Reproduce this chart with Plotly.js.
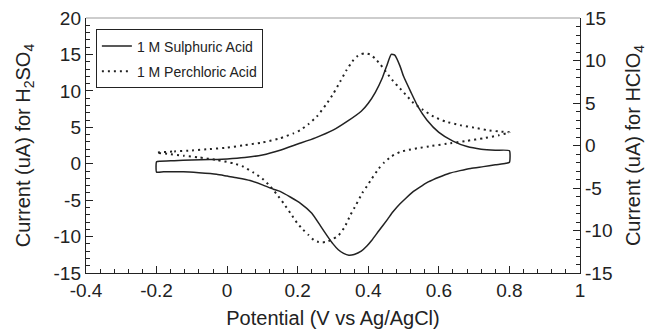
<!DOCTYPE html>
<html>
<head>
<meta charset="utf-8">
<script src="https://cdn.plot.ly/plotly-3.0.1.min.js"></script>
<style>
  html, body { margin: 0; padding: 0; background: #fff; }
  #chart { width: 652px; height: 336px; }
</style>
</head>
<body>
<div id="chart"></div>
<script>
// Cyclic voltammograms: potential (V vs Ag/AgCl) against current (uA)
// 1 M H2SO4 on the left axis, 1 M HClO4 on the right axis.

const sulphuricPotential = [
  -0.2, -0.19, -0.15, -0.1, -0.05, 0.0, 0.05, 0.1, 0.15, 0.2, 0.25, 0.3, 0.34, 0.38, 0.4, 0.42, 0.44, 0.455, 0.465,
  0.475, 0.49, 0.5, 0.52, 0.54, 0.566, 0.6, 0.64, 0.68, 0.72, 0.76, 0.8,
  0.8, 0.79, 0.76, 0.726, 0.69, 0.66, 0.63, 0.6, 0.57, 0.553, 0.528, 0.505, 0.49, 0.47, 0.455, 0.43, 0.41,
  0.396, 0.38, 0.36, 0.345, 0.33, 0.315, 0.3, 0.285, 0.264, 0.24, 0.207, 0.18, 0.15, 0.131, 0.1, 0.065,
  0.03, 0.0, -0.03, -0.08, -0.124, -0.18, -0.2, -0.2
];
const sulphuricCurrent = [
  0.27, 0.35, 0.42, 0.5, 0.57, 0.66, 0.85, 1.2, 1.85, 2.7, 3.55, 4.6, 5.8, 7.2, 8.3, 9.8, 11.8, 13.8, 15.0,
  14.9, 13.4, 12.0, 9.9, 7.9, 6.0, 4.3, 3.1, 2.35, 2.0, 1.85, 1.78,
  0.2, 0.05, -0.15, -0.4, -0.65, -0.95, -1.3, -1.85, -2.5, -3.0, -3.8, -4.8, -5.5, -6.6, -7.6, -9.2, -10.5,
  -11.3, -12.0, -12.45, -12.55, -12.3, -11.8, -11.0, -10.0, -8.5, -6.8, -5.4, -4.6, -3.8, -3.5, -2.9, -2.3,
  -1.95, -1.7, -1.45, -1.25, -1.12, -1.1, -1.15, 0.27
];

const perchloricPotential = [
  -0.2, -0.15, -0.1, -0.05, 0.0, 0.05, 0.1, 0.15, 0.188, 0.207, 0.23, 0.254, 0.28, 0.301, 0.32, 0.339, 0.355,
  0.367, 0.38, 0.391, 0.405, 0.419, 0.435, 0.453, 0.47, 0.49, 0.51, 0.528, 0.555, 0.585, 0.62, 0.66, 0.7,
  0.736, 0.77, 0.8,
  0.77, 0.726, 0.68, 0.632, 0.58, 0.538, 0.51, 0.49, 0.465, 0.445, 0.43, 0.41, 0.396, 0.383, 0.365, 0.349,
  0.333, 0.315, 0.3, 0.285, 0.27, 0.255, 0.245, 0.23, 0.215, 0.198, 0.18, 0.16, 0.14, 0.122, 0.1, 0.075,
  0.046, 0.018, -0.03, -0.08, -0.124, -0.17, -0.2
];
const perchloricCurrent = [
  -0.84, -0.7, -0.58, -0.42, -0.25, 0.05, 0.35, 0.85, 1.43, 1.8, 2.5, 3.4, 4.8, 6.1, 7.5, 8.9, 9.9,
  10.45, 10.75, 10.85, 10.7, 10.25, 9.5, 8.5, 7.6, 6.7, 5.8, 5.0, 4.2, 3.4, 2.8, 2.4, 2.1,
  1.82, 1.65, 1.55,
  1.2, 0.85, 0.55, 0.26, -0.05, -0.33, -0.55, -0.75, -1.3, -2.0, -2.7, -3.9, -4.8, -5.6, -7.0, -8.2,
  -9.6, -10.6, -11.0, -11.3, -11.4, -11.3, -11.1, -10.5, -9.9, -9.1, -8.0, -6.8, -5.7, -4.8, -3.9, -3.2,
  -2.5, -2.1, -1.7, -1.4, -1.2, -0.98, -0.84
];

// Tick positions and their printed labels
const xTickVals = [-0.4, -0.2, 0, 0.2, 0.4, 0.6, 0.8, 1];
const xTickText = ['-0.4', '-0.2', '0', '0.2', '0.4', '0.6', '0.8', '1'];
const yLeftTickVals = [-15, -10, -5, 0, 5, 10, 15, 20];
const yLeftTickText = ['-15', '-10', '-5', '0', '5', '10', '15', '20'];
const yRightTickVals = [-15, -10, -5, 0, 5, 10, 15];
const yRightTickText = ['-15', '-10', '-5', '0', '5', '10', '15'];

const ink = '#222';
const fontFamily = 'Arial, "Liberation Sans", Helvetica, sans-serif';

const traces = [
  {
    x: sulphuricPotential, y: sulphuricCurrent,
    name: '1 M Sulphuric Acid', type: 'scatter', mode: 'lines',
    line: { color: ink, width: 1.5, shape: 'spline', smoothing: 0.5 },
    yaxis: 'y', legendgroup: 'a'
  },
  {
    x: perchloricPotential, y: perchloricCurrent,
    name: '1 M Perchloric Acid', type: 'scatter', mode: 'lines',
    line: { color: ink, width: 2, dash: '2px,4px', shape: 'spline', smoothing: 0.5 },
    yaxis: 'y2', legendgroup: 'b'
  }
];

const commonAxis = {
  showgrid: false, zeroline: false, showline: true,
  linecolor: ink, linewidth: 1.2,
  ticks: 'inside', ticklen: 7, tickwidth: 1, tickcolor: ink,
  tickmode: 'array',
  tickfont: { family: fontFamily, size: 19, color: ink }
};

const titleFont = { family: fontFamily, size: 20, color: ink };

const layout = {
  width: 652, height: 336,
  margin: { l: 86, r: 72, t: 18, b: 63 },
  paper_bgcolor: '#fff', plot_bgcolor: '#fff',
  font: { family: fontFamily, color: ink },
  showlegend: true,
  legend: {
    x: 0.02, y: 0.955, xanchor: 'left', yanchor: 'top',
    bordercolor: ink, borderwidth: 1, bgcolor: '#fff',
    font: { family: fontFamily, size: 14, color: ink },
    traceorder: 'grouped', tracegroupgap: 4
  },
  xaxis: Object.assign({}, commonAxis, {
    range: [-0.4, 1],
    tickvals: xTickVals, ticktext: xTickText,
    minor: { dtick: 0.04, tick0: -0.4, ticks: 'inside', ticklen: 4, tickcolor: ink, showgrid: false },
    title: { text: 'Potential (V vs Ag/AgCl)', font: titleFont, standoff: 11 }
  }),
  yaxis: Object.assign({}, commonAxis, {
    range: [-15, 20],
    tickvals: yLeftTickVals, ticktext: yLeftTickText,
    minor: { dtick: 1, tick0: 0, ticks: 'inside', ticklen: 4, tickcolor: ink, showgrid: false },
    title: { text: 'Current (uA) for H<sub>2</sub>SO<sub>4</sub>', font: titleFont, standoff: 17 }
  }),
  yaxis2: Object.assign({}, commonAxis, {
    range: [-15, 15],
    overlaying: 'y', side: 'right', anchor: 'x',
    tickvals: yRightTickVals, ticktext: yRightTickText,
    minor: { dtick: 1, tick0: 0, ticks: 'inside', ticklen: 4, tickcolor: ink, showgrid: false },
    title: { text: 'Current (uA) for HClO<sub>4</sub>', font: titleFont, standoff: 14 }
  }),
  shapes: [
    // light frame line along the top of the plotting area
    { type: 'line', xref: 'paper', yref: 'paper', x0: 0, x1: 1, y0: 1, y1: 1,
      line: { color: '#bdbdbd', width: 1.5 } }
  ]
};

Plotly.newPlot('chart', traces, layout, { displayModeBar: false, staticPlot: true });
</script>
</body>
</html>
